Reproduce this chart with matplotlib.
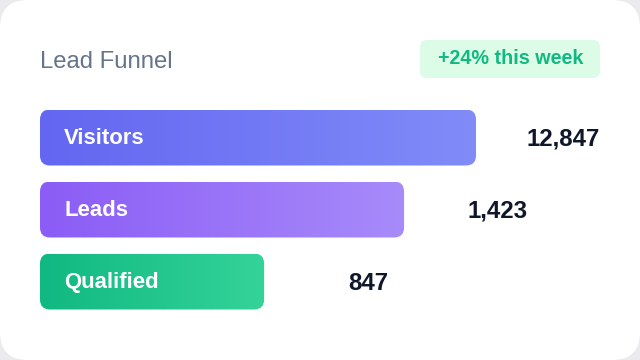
import numpy as np
import matplotlib
matplotlib.use("Agg")
import matplotlib.pyplot as plt
from matplotlib.patches import FancyBboxPatch
from matplotlib.colors import LinearSegmentedColormap

# funnel data
stages = ["Visitors", "Leads", "Qualified"]
counts = [12847, 1423, 847]
bar_share = [100, 83.5, 51.4]   # drawn bar length, % of the track
colors = [("#6366f1", "#818cf8"), ("#8b5cf6", "#a78bfa"), ("#10b981", "#34d399")]
title = "Lead Funnel"
badge = "+24% this week"

plt.rcParams["font.family"] = ["Liberation Sans", "DejaVu Sans"]

W, H = 640, 360
fig = plt.figure(figsize=(6.4, 3.6), dpi=100)
fig.patch.set_facecolor("#eaeaef")

# card layer in pixel coords
bg = fig.add_axes([0, 0, 1, 1])
bg.set_xlim(0, W)
bg.set_ylim(H, 0)
bg.axis("off")
card = FancyBboxPatch((0, 0), W, H, boxstyle="round,pad=0,rounding_size=28",
                      fc="white", ec="none")
bg.add_patch(card)

bg.text(40, 61.5, title, fontsize=17.2, color="#64748b", va="center", ha="left")
badge_box = FancyBboxPatch((420, 40), 180, 38, boxstyle="round,pad=0,rounding_size=7",
                           fc="#dcfce7", ec="none")
bg.add_patch(badge_box)
bg.text(510.5, 59, badge, fontsize=14.2, color="#10b981", fontweight="bold",
        va="center", ha="center")

# bars axes: x in % of track, rows of 72 px
track_l, track_r = 40, 476
row = 72
top = 137.5 - row / 2
bottom = top + row * len(stages)
ax = fig.add_axes([track_l / W, 1 - bottom / H, (track_r - track_l) / W, (bottom - top) / H])
ax.set_xlim(0, 100)
ax.set_ylim(len(stages) - 0.5, -0.5)
ax.axis("off")
ax.patch.set_alpha(0)

px_x = (track_r - track_l) / 100.0
px_y = row
aspect = px_x / px_y
bh = 56 / row

for i, (name, n, share, (c0, c1)) in enumerate(zip(stages, counts, bar_share, colors)):
    y0 = i - bh / 2
    patch = FancyBboxPatch((0, y0), share, bh,
                           boxstyle="round,pad=0,rounding_size=%f" % (10 / px_x),
                           mutation_aspect=aspect, fc="none", ec="none")
    ax.add_patch(patch)
    cmap = LinearSegmentedColormap.from_list(name, [c0, c1])
    grad = np.linspace(0, 1, 256).reshape(1, -1)
    im = ax.imshow(grad, cmap=cmap, extent=(0, share, y0 + bh, y0), aspect="auto",
                   interpolation="bicubic", zorder=2)
    im.set_clip_path(patch)
    ax.annotate(name, xy=(0, i), xytext=(24, -1), textcoords="offset pixels",
                ha="left", va="center", color="white", fontsize=15.9,
                fontweight="bold", zorder=3)
    ax.annotate(f"{n:,}", xy=(share, i), xytext=(124, -1.5), textcoords="offset pixels",
                ha="right", va="center", color="#0f172a", fontsize=17.3,
                fontweight="bold", zorder=3, annotation_clip=False)

ax.set_xlim(0, 100)
ax.set_ylim(len(stages) - 0.5, -0.5)

fig.savefig("out.png", dpi=100, facecolor=fig.get_facecolor())
